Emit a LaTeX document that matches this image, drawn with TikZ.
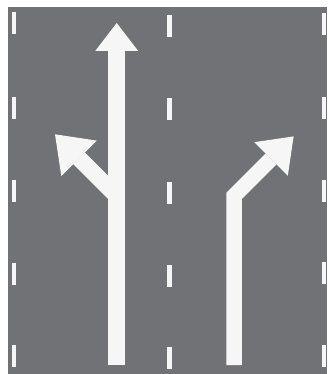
\documentclass[tikz,border=0pt]{standalone}
\begin{document}
\begin{tikzpicture}[x=1pt,y=-1pt,
  road/.style={fill=roadgray},
  dashmark/.style={fill=markwhite},
  shaftline/.style={draw=markwhite,line width=16.5pt,line cap=butt,line join=miter},
  headtri/.style={fill=markwhite}]
\definecolor{roadgray}{RGB}{112,114,117}
\definecolor{markwhite}{RGB}{246,246,246}
\useasboundingbox (0,0) rectangle (327,374);
\fill[white] (0,0) rectangle (327,374);
\fill[road] (7.5,7) rectangle (327,374);
% dashed lane lines
\foreach \yy in {12,97,180,263,345} {\fill[dashmark] (11.8,\yy) rectangle (16.2,\yy+22);}
\foreach \yy in {15,98,182,265,347} {\fill[dashmark] (167.3,\yy) rectangle (171.7,\yy+22);}
\foreach \yy in {13,97,180,262,345} {\fill[dashmark] (321.8,\yy) rectangle (326.2,\yy+22);}
% left arrow: straight with left branch
\coordinate (sbot) at (116.7,365);
\coordinate (stop) at (116.7,50.5);
\coordinate (sjoin) at (116.7,196);
\coordinate (lbase) at (79,158.3);
\draw[shaftline] (sbot) -- (stop);
\fill[headtri] (95.2,51) -- (116.7,23) -- (138.2,51) -- cycle;
\draw[shaftline] (sjoin) -- (lbase);
\fill[headtri] (96.7,140.6) -- (55,134.3) -- (61.3,176) -- cycle;
% right arrow: bend to the right
\coordinate (rbot) at (234,365);
\coordinate (rbend) at (234,196);
\coordinate (rbase) at (271,159);
\draw[shaftline,line width=15.5pt] (rbot) -- (rbend) -- (rbase);
\fill[headtri] (254.2,142.2) -- (293.6,136.4) -- (287.8,175.8) -- cycle;
\end{tikzpicture}
\end{document}
